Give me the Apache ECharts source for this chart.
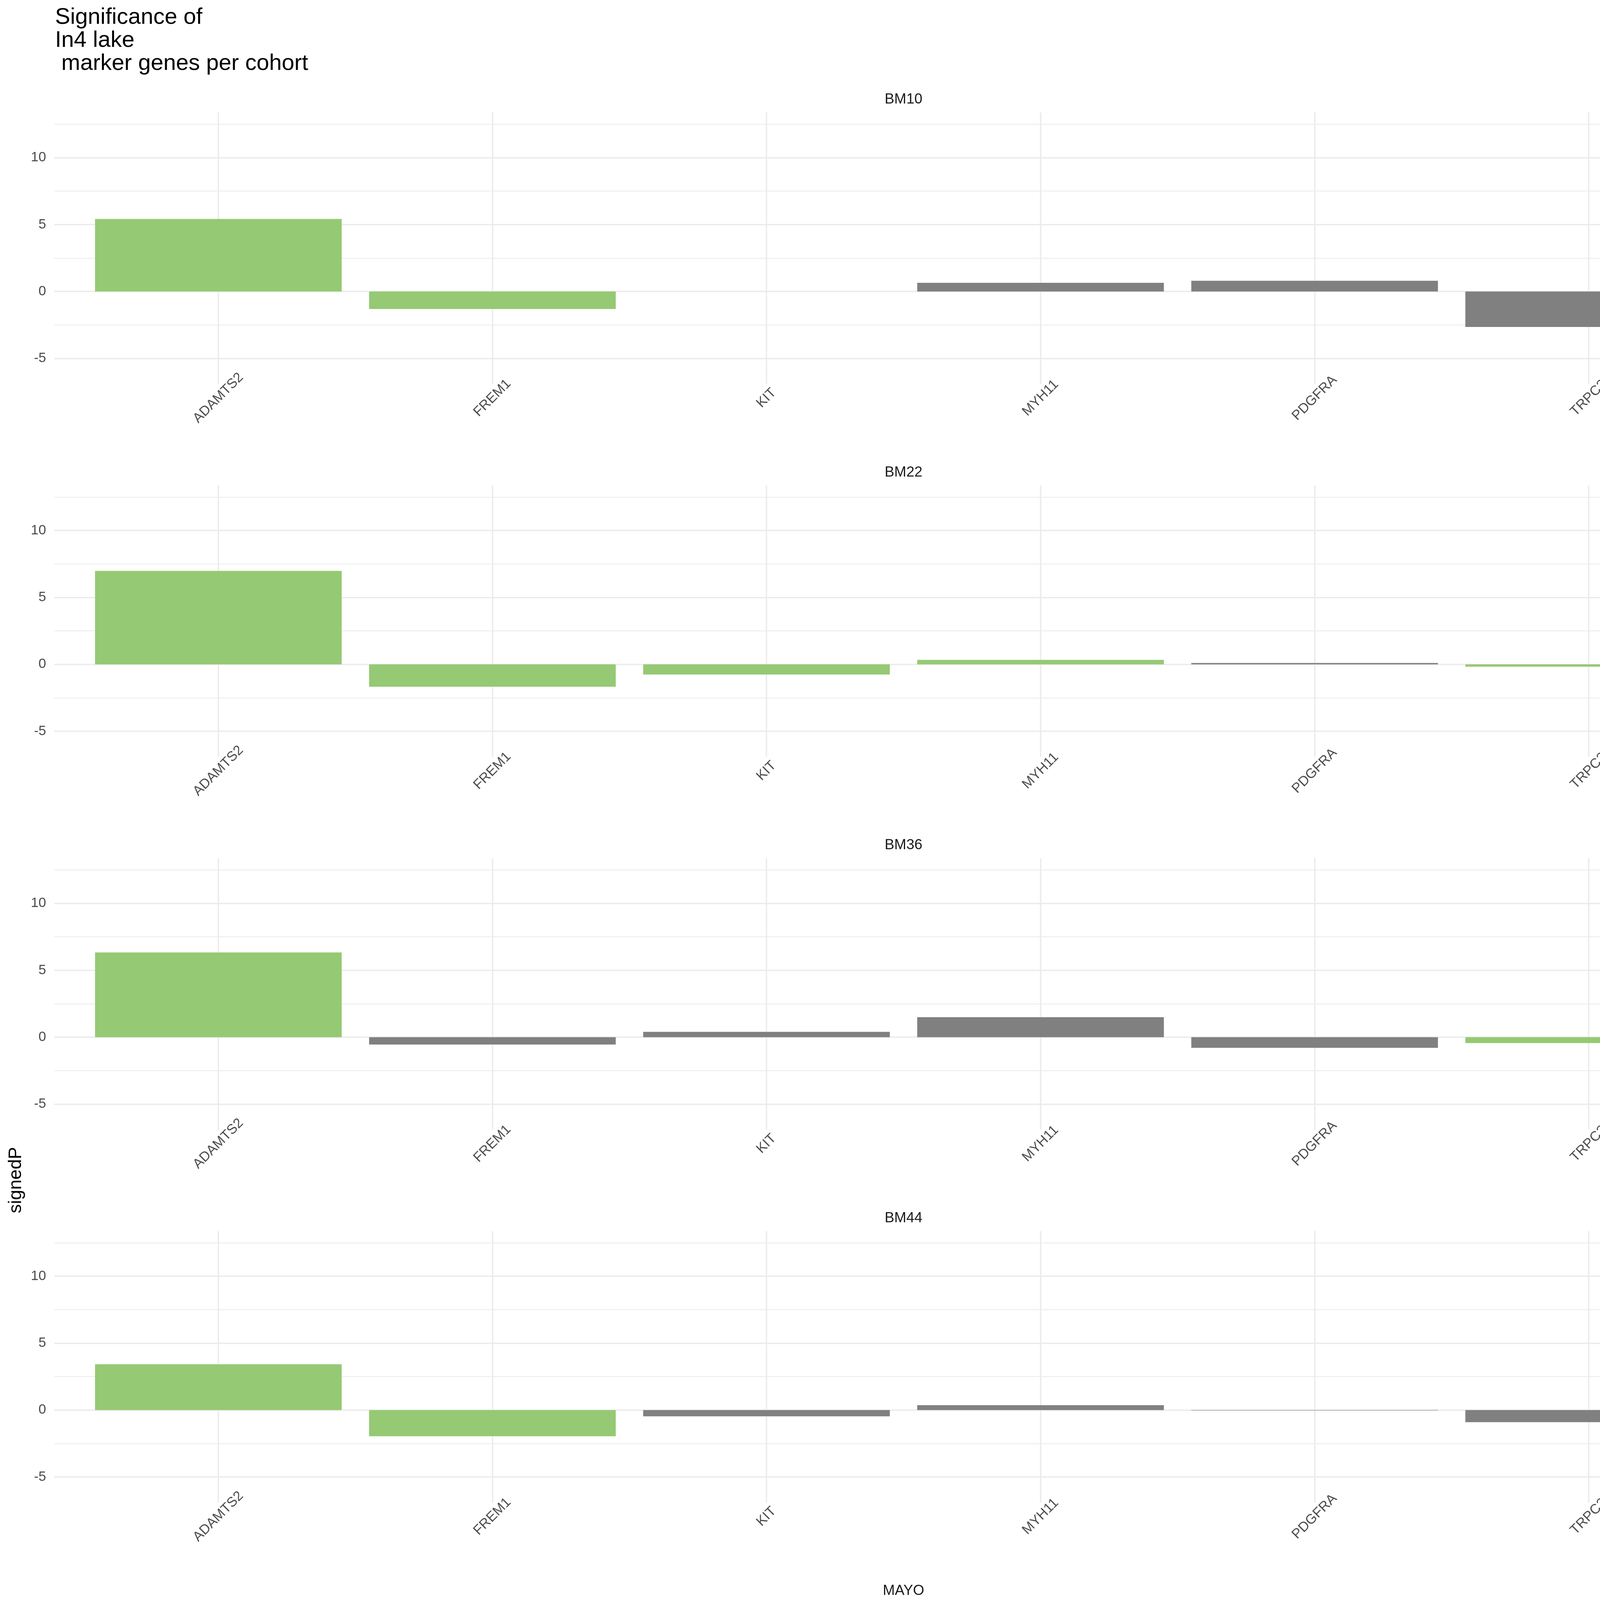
<!DOCTYPE html>
<html>
<head>
<meta charset="utf-8">
<script src="https://cdn.jsdelivr.net/npm/echarts@6/dist/echarts.min.js"></script>
<style>
  html, body { margin: 0; padding: 0; background: #fff; }
  #chart { width: 4500px; height: 6000px; }
</style>
</head>
<body>
<div id="chart"></div>
<script>
// data
const cohorts = ['BM10', 'BM22', 'BM36', 'BM44', 'MAYO', 'ROSMAP'];
const genes = ['ADAMTS2', 'FREM1', 'KIT', 'MYH11', 'PDGFRA', 'TRPC3'];

const bm10 = [5.42, -1.31, 0, 0.65, 0.80, -2.65];
const bm22 = [6.98, -1.67, -0.76, 0.33, 0.10, -0.18];
const bm36 = [6.33, -0.55, 0.40, 1.49, -0.80, -0.44];
const bm44 = [3.42, -1.96, -0.47, 0.36, -0.03, -0.91];
const mayo = [12.45, -5.99, -1.75, 2.63, 0.29, -2.88];
const rosmap = [10.10, -1.38, -0.44, 1.05, 0.15, -0.95];

// 1 = significant (green), 0 = not (grey)
const bm10Sig = [1, 1, 0, 0, 0, 0];
const bm22Sig = [1, 1, 1, 1, 0, 1];
const bm36Sig = [1, 0, 0, 0, 0, 1];
const bm44Sig = [1, 1, 0, 0, 0, 0];
const mayoSig = [1, 0, 0, 1, 0, 0];
const rosmapSig = [1, 1, 0, 0, 0, 0];

const yTicks = [-5, 0, 5, 10];

const values = [bm10, bm22, bm36, bm44, mayo, rosmap];
const sigs = [bm10Sig, bm22Sig, bm36Sig, bm44Sig, mayoSig, rosmapSig];

const FONT = '"Liberation Sans", Arial, sans-serif';
const GREEN = '#95C973';
const GREY = '#808080';
const GRIDCOL = '#EBEBEB';

// ggplot-style 5% expansion of the shared y range
const allVals = [].concat(...values);
const lo = Math.min(...allVals), hi = Math.max(...allVals);
const pad = (hi - lo) * 0.05;
const yMin = lo - pad, yMax = hi + pad;

const panelTop = 288, panelH = 695, panelStep = 954.5;

const grids = [], xAxes = [], yAxes = [], series = [], graphics = [];

cohorts.forEach(function (name, i) {
    const top = panelTop + i * panelStep;
    // wide grid: horizontal grid lines + y labels
    grids.push({left: 139, right: 11, top: top, height: panelH});
    // narrow grid: bars + vertical lines on the gene centres
    grids.push({left: 559, right: 433, top: top, height: panelH});

    xAxes.push({gridIndex: 2 * i, type: 'value', min: 0, max: 1, show: false});
    xAxes.push({
        gridIndex: 2 * i + 1,
        type: 'category',
        data: genes,
        boundaryGap: false,
        axisLine: {show: false},
        axisTick: {show: false},
        axisLabel: {
            interval: 0, rotate: 45, align: 'center', verticalAlign: 'middle',
            margin: 36, fontSize: 35, color: '#4D4D4D', fontFamily: FONT
        },
        splitLine: {show: true, interval: 0, lineStyle: {color: GRIDCOL, width: 3.5}}
    });

    yAxes.push({
        gridIndex: 2 * i,
        type: 'value',
        min: yMin, max: yMax,
        splitNumber: 5,
        axisLine: {show: false},
        axisTick: {show: false},
        axisLabel: {
            showMinLabel: false, showMaxLabel: false,
            margin: 21, fontSize: 35, color: '#4D4D4D', fontFamily: FONT,
            formatter: function (v) { return yTicks.indexOf(v) >= 0 ? String(v) : ''; }
        },
        splitLine: {show: true, showMinLine: false, showMaxLine: false, lineStyle: {color: GRIDCOL, width: 3.5}},
        minorTick: {show: false, splitNumber: 2},
        minorSplitLine: {show: true, lineStyle: {color: GRIDCOL, width: 1.8}}
    });
    yAxes.push({gridIndex: 2 * i + 1, type: 'value', min: yMin, max: yMax, show: false});

    series.push({
        type: 'bar',
        name: name,
        xAxisIndex: 2 * i + 1,
        yAxisIndex: 2 * i + 1,
        barWidth: '90%',
        clip: false,
        data: values[i].map(function (v, j) {
            return {value: v, itemStyle: {color: sigs[i][j] ? GREEN : GREY}};
        })
    });

    // facet strip label
    graphics.push({
        type: 'text',
        x: 2313, y: top - 33,
        style: {text: name, fill: '#1A1A1A', font: '37px ' + FONT, align: 'center', verticalAlign: 'middle'}
    });
});

graphics.push({
    type: 'text',
    x: 41, y: 3021, rotation: Math.PI / 2,
    style: {text: 'signedP', fill: '#000', font: '47px ' + FONT, align: 'center', verticalAlign: 'middle'}
});
graphics.push({
    type: 'text',
    x: 2313, y: 5953,
    style: {text: 'gene', fill: '#000', font: '47px ' + FONT, align: 'center', verticalAlign: 'middle'}
});

const chart = echarts.init(document.getElementById('chart'));
chart.setOption({
    animation: false,
    backgroundColor: '#fff',
    title: {
        text: 'Significance of\nIn4 lake\n marker genes per cohort',
        left: 136, top: 10,
        textStyle: {fontSize: 58, lineHeight: 59, fontWeight: 'normal', color: '#000', fontFamily: FONT}
    },
    grid: grids,
    xAxis: xAxes,
    yAxis: yAxes,
    series: series,
    graphic: graphics
});
</script>
</body>
</html>
